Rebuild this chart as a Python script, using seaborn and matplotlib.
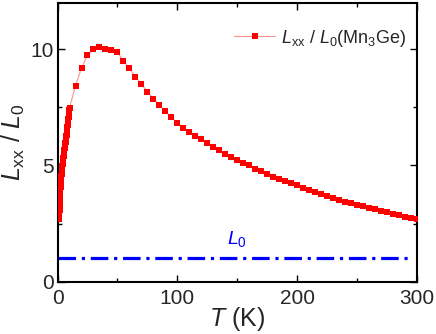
import numpy as np
import pandas as pd
import matplotlib
matplotlib.use("Agg")
import matplotlib.pyplot as plt
from matplotlib.lines import Line2D
from matplotlib.ticker import MultipleLocator
import seaborn as sns

# Lxx/L0 de Mn3Ge (lectura del grafico)
T_low = [1.5, 1.6, 1.7, 1.8, 1.9, 2.0, 2.1, 2.2, 2.3, 2.4, 2.5, 2.6, 2.7, 2.8,
         2.9, 3.0, 3.15, 3.3, 3.45, 3.6, 3.75, 3.9, 4.05, 4.2, 4.35, 4.5, 4.7,
         4.9, 5.1, 5.3, 5.5, 5.7, 5.9, 6.1, 6.3, 6.5, 6.7, 6.9, 7.1, 7.3, 7.5,
         7.7, 7.9, 8.1, 8.3, 8.5, 8.7, 8.9, 9.1, 9.3, 9.5, 9.7, 9.85, 10.0]
ratio_low = [2.70, 2.92, 3.10, 3.27, 3.42, 3.55, 3.67, 3.78, 3.88, 3.98, 4.07,
             4.15, 4.23, 4.30, 4.38, 4.45, 4.54, 4.63, 4.71, 4.79, 4.86, 4.92,
             4.99, 5.05, 5.11, 5.18, 5.26, 5.34, 5.42, 5.50, 5.58, 5.66, 5.74,
             5.81, 5.88, 5.96, 6.03, 6.10, 6.18, 6.25, 6.33, 6.41, 6.49, 6.57,
             6.65, 6.74, 6.83, 6.92, 7.01, 7.10, 7.20, 7.30, 7.39, 7.48]
T_high = [15, 20, 25, 30, 35, 40, 45, 50, 55, 60, 65, 70, 75, 80, 85, 90, 95,
          100, 105, 110, 115, 120, 125, 130, 135, 140, 145, 150, 155, 160, 165,
          170, 175, 180, 185, 190, 195, 200, 205, 210, 215, 220, 225, 230, 235,
          240, 245, 250, 255, 260, 265, 270, 275, 280, 285, 290, 295, 300]
ratio_high = [8.44, 9.20, 9.75, 10.00, 10.12, 10.03, 9.98, 9.88, 9.51, 9.18,
              8.83, 8.51, 8.18, 7.88, 7.59, 7.33, 7.07, 6.85, 6.63, 6.44, 6.27,
              6.12, 5.97, 5.81, 5.65, 5.51, 5.36, 5.22, 5.11, 5.00, 4.87, 4.75,
              4.64, 4.52, 4.41, 4.32, 4.24, 4.14, 4.03, 3.94, 3.85, 3.76, 3.69,
              3.60, 3.52, 3.43, 3.37, 3.30, 3.24, 3.16, 3.11, 3.05, 2.98, 2.91,
              2.85, 2.79, 2.75, 2.69]

# referencia L0
L0_T = [0, 293]
L0_val = [1, 1]

df = pd.DataFrame({"T": T_low + T_high, "ratio": ratio_low + ratio_high})
df_L0 = pd.DataFrame({"T": L0_T, "L": L0_val})

sns.set_style("ticks")
plt.rcParams["font.family"] = ["Liberation Sans", "DejaVu Sans"]
plt.rcParams["mathtext.fontset"] = "custom"
plt.rcParams["mathtext.rm"] = "Liberation Sans"
plt.rcParams["mathtext.it"] = "Liberation Sans:italic"

fig, ax = plt.subplots(figsize=(4.36, 3.34), dpi=100)
fig.subplots_adjust(left=0.132, right=0.956, bottom=0.157, top=0.991)

sns.lineplot(data=df, x="T", y="ratio", color="#ff9090", lw=0.8, ax=ax,
             sort=False, estimator=None)
sns.scatterplot(data=df, x="T", y="ratio", marker="s", color="red", s=20,
                linewidth=0, ax=ax, zorder=3)
sns.lineplot(data=df_L0, x="T", y="L", color="blue", lw=2.3, ax=ax,
             linestyle=(0, (5.5, 1.8, 1.0, 1.8)), dash_capstyle="butt")

ax.text(150, 1.85, r"$L_0$", color="blue", fontsize=14, ha="center", va="center")

ax.set_xlim(0, 300)
ax.set_ylim(0, 12)
ax.xaxis.set_major_locator(MultipleLocator(100))
ax.xaxis.set_minor_locator(MultipleLocator(50))
ax.yaxis.set_major_locator(MultipleLocator(5))
ax.yaxis.set_minor_locator(MultipleLocator(2.5))
ax.tick_params(which="both", direction="in", top=True, right=True,
               labelsize=15, width=1, color="black")
ax.tick_params(which="major", length=5)
ax.tick_params(which="minor", length=3)
ax.tick_params(axis="x", pad=5)
ax.tick_params(axis="y", pad=3)
for sp in ax.spines.values():
    sp.set_linewidth(1.5)
    sp.set_color("black")

ax.set_xlabel(r"$T$ (K)", fontsize=18, labelpad=-2)
ax.set_ylabel(r"$L_{\rm xx}$ / $L_0$", fontsize=18, labelpad=2)

handle = Line2D([], [], color="#ff9090", lw=0.8, marker="s", markersize=4,
                markerfacecolor="red", markeredgewidth=0)
ax.legend([handle], [r"$L_{\rm xx}$ / $L_0$(Mn$_3$Ge)"], loc="upper right",
          bbox_to_anchor=(1.0, 0.95), frameon=False, fontsize=13,
          handlelength=2.3, handletextpad=0.3, borderaxespad=0.2)

fig.savefig("out.png", dpi=100)
